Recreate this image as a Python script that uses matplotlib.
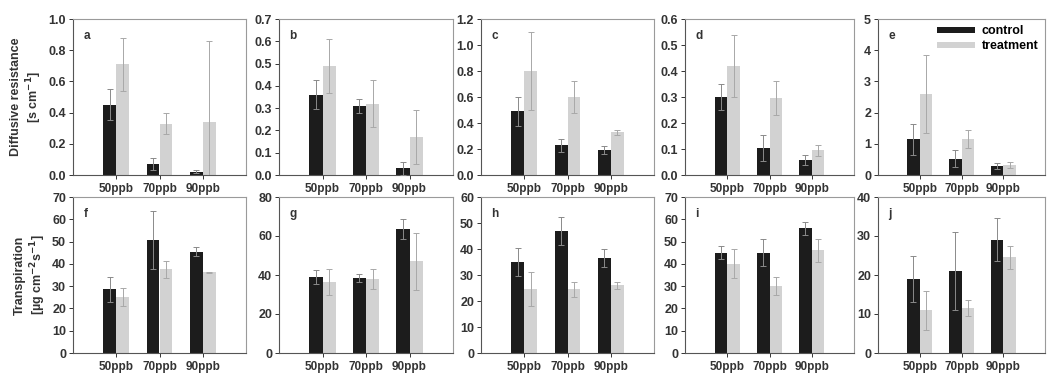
import matplotlib
matplotlib.use("Agg")
import matplotlib.pyplot as plt
import numpy as np

plt.rcParams['font.family'] = ['Liberation Sans', 'DejaVu Sans']
plt.rcParams['font.weight'] = 'bold'

categories = ["50ppb", "70ppb", "90ppb"]
panel_letters = ["a", "b", "c", "d", "e", "f", "g", "h", "i", "j"]

# diffusive resistance (top row)
ctrl_a = [0.45, 0.07, 0.02]
ctrl_a_err = [0.10, 0.04, 0.01]
trt_a = [0.71, 0.33, 0.34]
trt_a_err = [0.17, 0.07, 0.52]

ctrl_b = [0.36, 0.31, 0.03]
ctrl_b_err = [0.065, 0.03, 0.03]
trt_b = [0.49, 0.32, 0.17]
trt_b_err = [0.12, 0.105, 0.12]

ctrl_c = [0.49, 0.23, 0.19]
ctrl_c_err = [0.11, 0.05, 0.03]
trt_c = [0.80, 0.60, 0.33]
trt_c_err = [0.30, 0.12, 0.02]

ctrl_d = [0.30, 0.105, 0.057]
ctrl_d_err = [0.05, 0.05, 0.02]
trt_d = [0.42, 0.295, 0.095]
trt_d_err = [0.12, 0.065, 0.022]

ctrl_e = [1.15, 0.52, 0.28]
ctrl_e_err = [0.5, 0.27, 0.1]
trt_e = [2.6, 1.15, 0.33]
trt_e_err = [1.25, 0.3, 0.1]

# transpiration (bottom row)
ctrl_f = [28.5, 50.5, 45.5]
ctrl_f_err = [5.5, 13.0, 2.0]
trt_f = [25.0, 37.5, 36.2]
trt_f_err = [4.0, 4.0, 0.3]

ctrl_g = [39.0, 38.5, 63.5]
ctrl_g_err = [3.5, 2.0, 5.0]
trt_g = [36.5, 38.0, 47.0]
trt_g_err = [6.5, 5.0, 14.5]

ctrl_h = [35.0, 47.0, 36.5]
ctrl_h_err = [5.5, 5.5, 3.5]
trt_h = [24.5, 24.5, 26.0]
trt_h_err = [6.5, 3.0, 1.5]

ctrl_i = [45.0, 45.0, 56.0]
ctrl_i_err = [3.0, 6.0, 3.0]
trt_i = [40.0, 30.0, 46.0]
trt_i_err = [6.5, 4.0, 5.0]

ctrl_j = [19.0, 21.0, 29.0]
ctrl_j_err = [6.0, 10.0, 5.5]
trt_j = [11.0, 11.5, 24.5]
trt_j_err = [5.0, 2.0, 3.0]

ctrl_all = [ctrl_a, ctrl_b, ctrl_c, ctrl_d, ctrl_e, ctrl_f, ctrl_g, ctrl_h, ctrl_i, ctrl_j]
ctrl_err_all = [ctrl_a_err, ctrl_b_err, ctrl_c_err, ctrl_d_err, ctrl_e_err,
                ctrl_f_err, ctrl_g_err, ctrl_h_err, ctrl_i_err, ctrl_j_err]
trt_all = [trt_a, trt_b, trt_c, trt_d, trt_e, trt_f, trt_g, trt_h, trt_i, trt_j]
trt_err_all = [trt_a_err, trt_b_err, trt_c_err, trt_d_err, trt_e_err,
               trt_f_err, trt_g_err, trt_h_err, trt_i_err, trt_j_err]

ylims = [1.0, 0.7, 1.2, 0.6, 5, 70, 80, 60, 70, 40]
ysteps = [0.2, 0.1, 0.2, 0.1, 1, 10, 20, 10, 10, 10]
ydecimals = [1, 1, 1, 1, 0, 0, 0, 0, 0, 0]

W, H = 1047, 374
fig = plt.figure(figsize=(W / 100, H / 100), dpi=100)

lefts = [73, 279, 481, 685, 878]
rights = [246, 453, 654, 854, 1045]
rows = [(19, 175), (197, 353)]

ctrl_color = "#1c1c1c"
trt_color = "#d2d2d2"
x = np.arange(1, 4)
bw = 0.3

axes = []
for k in range(10):
    r, c = divmod(k, 5)
    top, bot = rows[r]
    ax = fig.add_axes([lefts[c] / W, 1 - bot / H, (rights[c] - lefts[c]) / W, (bot - top) / H])
    ax.bar(x - bw / 2, ctrl_all[k], bw, color=ctrl_color, label="control", zorder=2)
    ax.bar(x + bw / 2, trt_all[k], bw, color=trt_color, label="treatment", zorder=2)
    ax.errorbar(x - bw / 2, ctrl_all[k], yerr=ctrl_err_all[k], fmt="none",
                ecolor="#8a8a8a", elinewidth=0.7, capsize=2, capthick=0.7, zorder=3)
    ax.errorbar(x + bw / 2, trt_all[k], yerr=trt_err_all[k], fmt="none",
                ecolor="#a8a8a8", elinewidth=0.7, capsize=2, capthick=0.7, zorder=3)
    ax.set_xlim(0, 4)
    ax.set_ylim(0, ylims[k])
    ticks = np.arange(0, ylims[k] + ysteps[k] / 2, ysteps[k])
    ax.set_yticks(ticks)
    ax.set_yticklabels([f"{t:.{ydecimals[k]}f}" for t in ticks])
    ax.set_xticks(x)
    ax.set_xticklabels(categories)
    ax.tick_params(labelsize=9, length=3, width=0.7, colors="#333333", pad=2)
    ax.tick_params(axis="x", labelsize=8.5, pad=3)
    for lab in ax.get_xticklabels() + ax.get_yticklabels():
        lab.set_fontweight("bold")
    for s in ["left", "bottom"]:
        ax.spines[s].set_color("#555555")
        ax.spines[s].set_linewidth(0.8)
    for s in ["top", "right"]:
        ax.spines[s].set_color("#9a9a9a")
        ax.spines[s].set_linewidth(0.8)
    ax.text(0.06, 0.93, panel_letters[k], transform=ax.transAxes, fontsize=8.5,
            fontweight="bold", color="#333333", va="top", ha="left")
    axes.append(ax)

axes[0].set_ylabel("Diffusive resistance\n[s cm$^{-1}$]", fontsize=9,
                   fontweight="bold", color="#333333", labelpad=3)
axes[5].set_ylabel("Transpiration\n[\u00b5g cm$^{-2}$s$^{-1}$]", fontsize=9,
                   fontweight="bold", color="#333333", labelpad=3)

leg = axes[4].legend(loc="upper right", frameon=False, handlelength=3.0,
                     handleheight=0.4, borderaxespad=0.1, labelspacing=0.25,
                     handletextpad=0.6, prop={"weight": "bold", "size": 9})

fig.savefig("out.png", dpi=100)
